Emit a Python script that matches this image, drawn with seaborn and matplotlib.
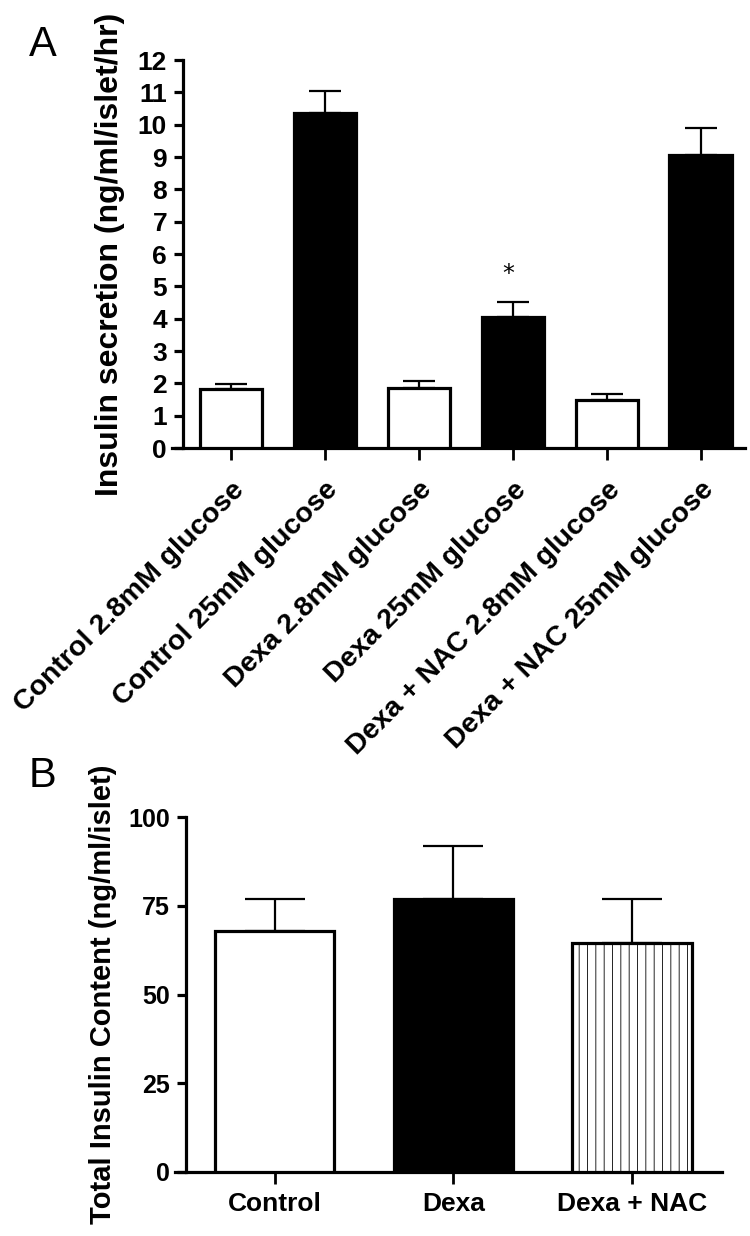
import numpy as np
import pandas as pd
import matplotlib
matplotlib.use("Agg")
import matplotlib.pyplot as plt
import seaborn as sns

# datos
grupos_a = ["Control 2.8mM glucose", "Control 25mM glucose", "Dexa 2.8mM glucose",
            "Dexa 25mM glucose", "Dexa + NAC 2.8mM glucose", "Dexa + NAC 25mM glucose"]
secrecion = [1.81, 10.36, 1.86, 4.05, 1.48, 9.05]
secrecion_err = [0.17, 0.69, 0.21, 0.46, 0.19, 0.85]
colores_a = ["white", "black", "white", "black", "white", "black"]
estrella_grupo = "Dexa 25mM glucose"
estrella_y = 5.37

grupos_b = ["Control", "Dexa", "Dexa + NAC"]
contenido = [67.9, 76.8, 64.6]
contenido_err = [8.9, 15.1, 12.2]
colores_b = ["white", "black", "white"]

sns.set_style("ticks")
plt.rcParams["font.family"] = ["Liberation Sans", "DejaVu Sans"]
plt.rcParams["hatch.linewidth"] = 0.6
for k in ["text.color", "axes.labelcolor", "xtick.color", "ytick.color", "axes.edgecolor"]:
    plt.rcParams[k] = "black"

fig = plt.figure(figsize=(7.5, 12.36), dpi=100)

# --- PANEL A ---
ax1 = fig.add_axes([0.2293, 0.63754, 0.764, 0.3139])
df_a = pd.DataFrame({"grupo": grupos_a, "valor": secrecion})
sns.barplot(data=df_a, x="grupo", y="valor", hue="grupo", palette=dict(zip(grupos_a, colores_a)),
            legend=False, errorbar=None, width=0.67, edgecolor="black", linewidth=2.3,
            zorder=3, ax=ax1)
ax1.errorbar(np.arange(len(grupos_a)), secrecion, yerr=[np.zeros(len(secrecion)), secrecion_err],
             fmt="none", ecolor="black", elinewidth=1.6, capsize=11.5, capthick=1.6, zorder=2)
ax1.text(grupos_a.index(estrella_grupo) - 0.05, estrella_y, "*", ha="center", va="center",
         fontsize=17, family="DejaVu Sans")
ax1.set_ylim(0, 12)
ax1.set_xlim(-0.628, 5.468)
ax1.set_yticks(range(0, 13))
ax1.spines["left"].set_position(("data", -0.51))
for s in ["top", "right"]:
    ax1.spines[s].set_visible(False)
for s in ["left", "bottom"]:
    ax1.spines[s].set_linewidth(2.3)
ax1.tick_params(axis="y", length=6.5, width=2.3, labelsize=19, pad=5)
ax1.tick_params(axis="x", length=8.6, width=2.0, pad=12)
for lab in ax1.get_yticklabels():
    lab.set_fontweight("bold")
ax1.set_xticks(range(len(grupos_a)))
ax1.set_xticklabels(grupos_a, rotation=45, ha="right", rotation_mode="anchor",
                    fontweight="bold", fontsize=20.5)
ax1.set_xlabel("")
ax1.set_ylabel("Insulin secretion (ng/ml/islet/hr)", fontsize=23, fontweight="bold")
ax1.yaxis.label.set_va("center")
ax1.yaxis.set_label_coords(-0.108, 0.5)

# --- PANEL B ---
ax2 = fig.add_axes([0.2333, 0.05178, 0.7293, 0.2872])
df_b = pd.DataFrame({"grupo": grupos_b, "valor": contenido})
sns.barplot(data=df_b, x="grupo", y="valor", hue="grupo", palette=dict(zip(grupos_b, colores_b)),
            legend=False, errorbar=None, width=0.667, edgecolor="black", linewidth=2.3,
            zorder=3, ax=ax2)
ax2.patches[2].set_hatch("||")
ax2.errorbar(np.arange(len(grupos_b)), contenido, yerr=[np.zeros(len(contenido)), contenido_err],
             fmt="none", ecolor="black", elinewidth=1.6, capsize=21.5, capthick=1.6, zorder=2)
ax2.set_ylim(0, 100)
ax2.set_xlim(-0.56, 2.504)
ax2.set_yticks([0, 25, 50, 75, 100])
ax2.spines["left"].set_position(("data", -0.5))
for s in ["top", "right"]:
    ax2.spines[s].set_visible(False)
for s in ["left", "bottom"]:
    ax2.spines[s].set_linewidth(2.3)
ax2.tick_params(axis="y", length=6.5, width=2.3, labelsize=18, pad=5)
ax2.tick_params(axis="x", length=8.6, width=2.0, labelsize=19, pad=6)
for lab in ax2.get_yticklabels() + ax2.get_xticklabels():
    lab.set_fontweight("bold")
ax2.set_xlabel("")
ax2.set_ylabel("Total Insulin Content (ng/ml/islet)", fontsize=21, fontweight="bold")
ax2.yaxis.label.set_va("center")
ax2.yaxis.set_label_coords(-0.132, 0.5)

fig.text(29 / 750, 1 - 56 / 1236, "A", fontsize=30)
fig.text(29 / 750, 1 - 787 / 1236, "B", fontsize=30)

fig.savefig("out.png", dpi=100)
